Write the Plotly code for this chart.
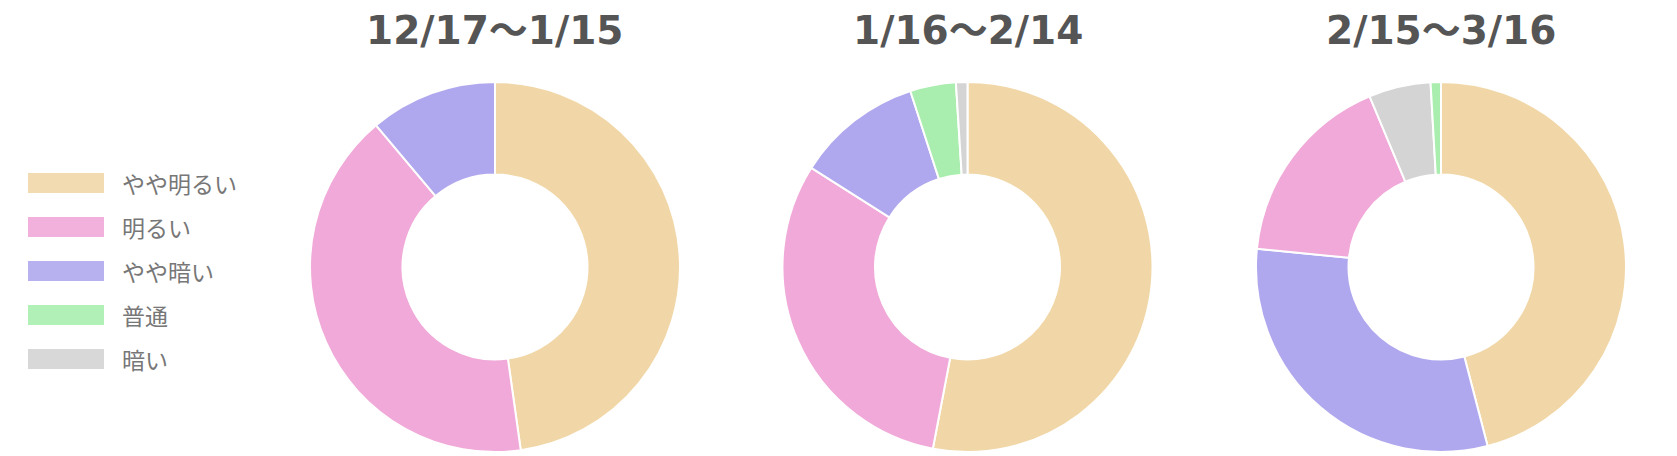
import plotly.graph_objects as go

W, H = 1677, 456
OFF = 8  # page body margin in the browser

categories = ["やや明るい", "明るい", "やや暗い", "普通", "暗い"]
colors = ["#F1D7A7", "#F0A9D8", "#B0A8EE", "#A9EEAE", "#D4D4D4"]
period_titles = ["12/17～1/15", "1/16～2/14", "2/15～3/16"]
period1 = [43, 37, 10, 0, 0]
period2 = [53, 31, 11, 4, 1]
period3 = [51, 19, 34, 1, 6]
series = [period1, period2, period3]

# pie boxes in pixels (left, right, top, bottom)
boxes = [(310, 680, 82, 452), (782, 1153, 82, 452), (1255, 1627, 82, 452)]


def px(x):
    return (x - OFF) / W


def py(y):
    return 1 - (y - OFF) / H


fig = go.Figure()
for vals, (l, r, t, b), title in zip(series, boxes, period_titles):
    fig.add_trace(go.Pie(
        labels=categories, values=vals,
        marker=dict(colors=colors, line=dict(color="white", width=2)),
        hole=0.5, sort=True, direction="clockwise", rotation=0,
        textinfo="none", hoverinfo="label+value+percent",
        domain=dict(x=[px(l), px(r)], y=[py(b), py(t)]),
        showlegend=False,
    ))
    fig.add_annotation(
        x=px((l + r) / 2), y=py(31), xref="paper", yref="paper",
        text=f"<b>{title}</b>", showarrow=False,
        font=dict(family="DejaVu Sans, Noto Sans CJK JP", size=39, color="#555555"),
        xanchor="center", yanchor="middle",
    )

# custom legend
for i, (cat, col) in enumerate(zip(categories, colors)):
    cy = 183 + 44 * i
    fig.add_shape(type="rect", xref="paper", yref="paper",
                  x0=px(28), x1=px(104), y0=py(cy + 10), y1=py(cy - 10),
                  fillcolor=col, line=dict(width=0), opacity=0.9)
    fig.add_annotation(x=px(120), y=py(cy), xref="paper", yref="paper",
                       text=cat, showarrow=False, xanchor="left", yanchor="middle",
                       font=dict(family="Noto Sans CJK JP", size=23, color="#777777"))

fig.update_layout(
    width=W, height=H,
    margin=dict(l=0, r=0, t=0, b=0),
    paper_bgcolor="white", plot_bgcolor="white",
)
fig.write_html("out.html")
